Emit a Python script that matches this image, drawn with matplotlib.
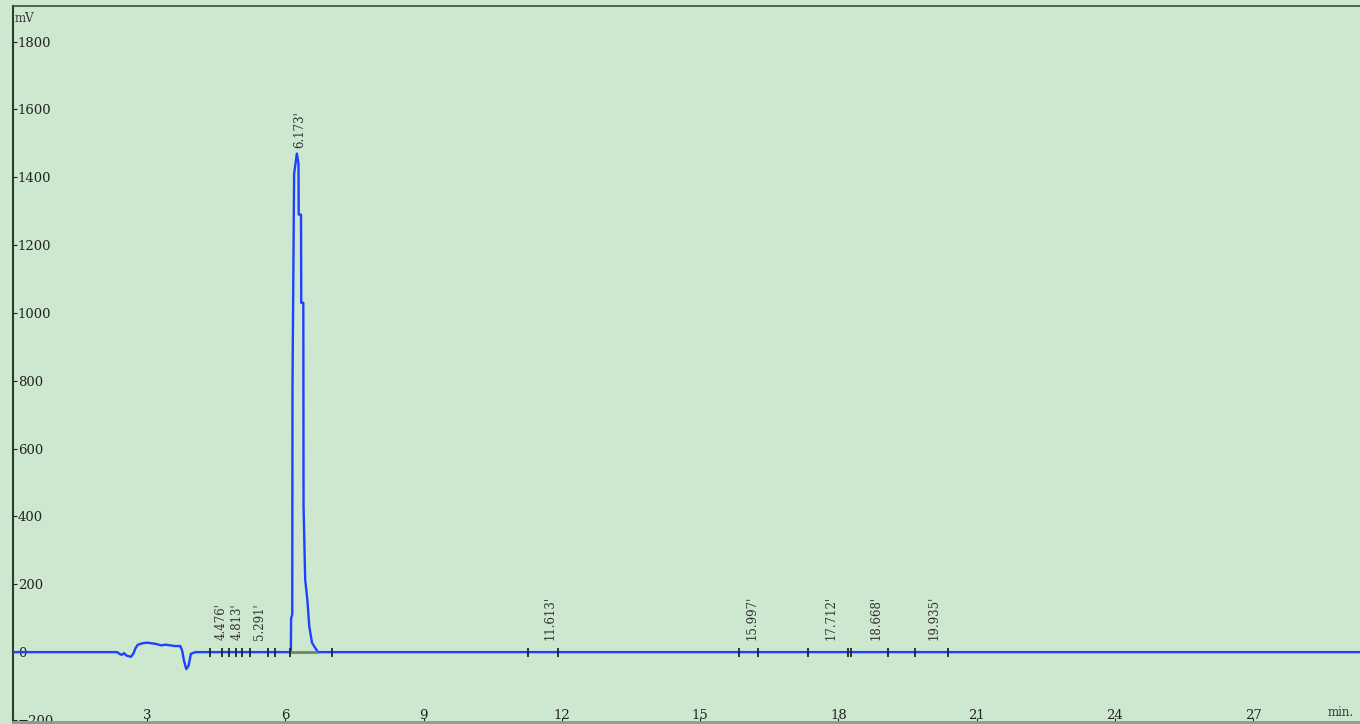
import numpy as np
import matplotlib.pyplot as plt

# chromatogram trace (time in min, signal in mV)
signal_t = [0.09, 2.35, 2.40, 2.45, 2.50, 2.55, 2.60, 2.65, 2.70, 2.75, 2.80,
            2.90, 3.00, 3.10, 3.20, 3.30, 3.40, 3.50, 3.60, 3.72, 3.76, 3.80,
            3.85, 3.90, 3.95, 4.05, 6.10, 6.12, 6.125, 6.15, 6.155, 6.19, 6.25,
            6.285, 6.29, 6.34, 6.345, 6.39, 6.395, 6.43, 6.48, 6.52, 6.58, 6.65,
            6.71, 29.32]
signal_mv = [0, 0, -5, -8, -3, -10, -12, -14, -5, 12, 22,
             26, 28, 26, 24, 20, 22, 20, 18, 18, 5, -25,
             -50, -40, -5, 0, 0, 5, 100, 110, 780, 1410, 1470,
             1440, 1290, 1290, 1030, 1030, 430, 215, 150, 75, 27, 12,
             0, 0]

# integration marks (peak start / end) on the baseline
mark_t = [4.37, 4.63, 4.78, 4.93, 5.06, 5.24, 5.63, 5.77, 6.10, 7.02,
          11.27, 11.92, 15.85, 16.26, 17.35, 18.22, 18.28, 19.08, 19.67, 20.38]

# labelled peaks
peak_rt = [4.476, 4.813, 5.291, 6.173, 11.613, 15.997, 17.712, 18.668, 19.935]
peak_height = [25, 25, 25, 1475, 25, 25, 25, 25, 25]

# baseline segment drawn under the main peak
base_seg = [6.10, 6.66]

x_ticks = [3, 6, 9, 12, 15, 18, 21, 24, 27]
y_ticks = [-200, 0, 200, 400, 600, 800, 1000, 1200, 1400, 1600, 1800]

bg = '#cde8cf'
serif = ['DejaVu Serif']

fig = plt.figure(figsize=(13.6, 7.24), dpi=100, facecolor=bg)
ax = fig.add_axes([13 / 1360, 2 / 724, 1 - 13 / 1360, 1 - 8 / 724])
ax.set_facecolor(bg)

ax.plot(signal_t, signal_mv, color='#1f40ff', lw=1.7, zorder=3)
ax.plot(base_seg, [0, 0], color='#6b866b', lw=2, zorder=4)
ax.vlines(mark_t, -13, 13, color='#202838', lw=1.3, zorder=5)

for rt, h in zip(peak_rt, peak_height):
    ax.text(rt, h + 10, f"{rt:.3f}'", rotation=90, ha='left', va='bottom',
            fontsize=8.5, family=serif, color='#333333', zorder=6)

ax.set_xlim(0.09, 29.32)
ax.set_ylim(-206, 1905)
ax.set_xticks(x_ticks)
ax.set_yticks(y_ticks)

ax.tick_params(axis='x', direction='in', length=3, pad=-9.5, labelsize=9.5,
               colors='#222222')
ax.tick_params(axis='y', direction='in', length=3, pad=-3.5, labelsize=9.5,
               colors='#222222')
for lbl in ax.get_yticklabels():
    lbl.set_ha('left')
    lbl.set_family(serif)
for lbl in ax.get_xticklabels():
    lbl.set_family(serif)

ax.spines['right'].set_visible(False)
ax.spines['left'].set_color('#2f3a2f')
ax.spines['left'].set_linewidth(1.5)
ax.spines['top'].set_color('#3a4a3a')
ax.spines['top'].set_linewidth(1.2)
ax.spines['bottom'].set_color('#8a9c8a')
ax.spines['bottom'].set_linewidth(2)

fig.text(15 / 1360, 1 - 19 / 724, 'mV', fontsize=8.5, family=serif,
         color='#333333', va='center')
fig.text(1328 / 1360, 1 - 713 / 724, 'min.', fontsize=8.5, family=serif,
         color='#333333', va='center')

fig.savefig('out.png', dpi=100, facecolor=bg)
